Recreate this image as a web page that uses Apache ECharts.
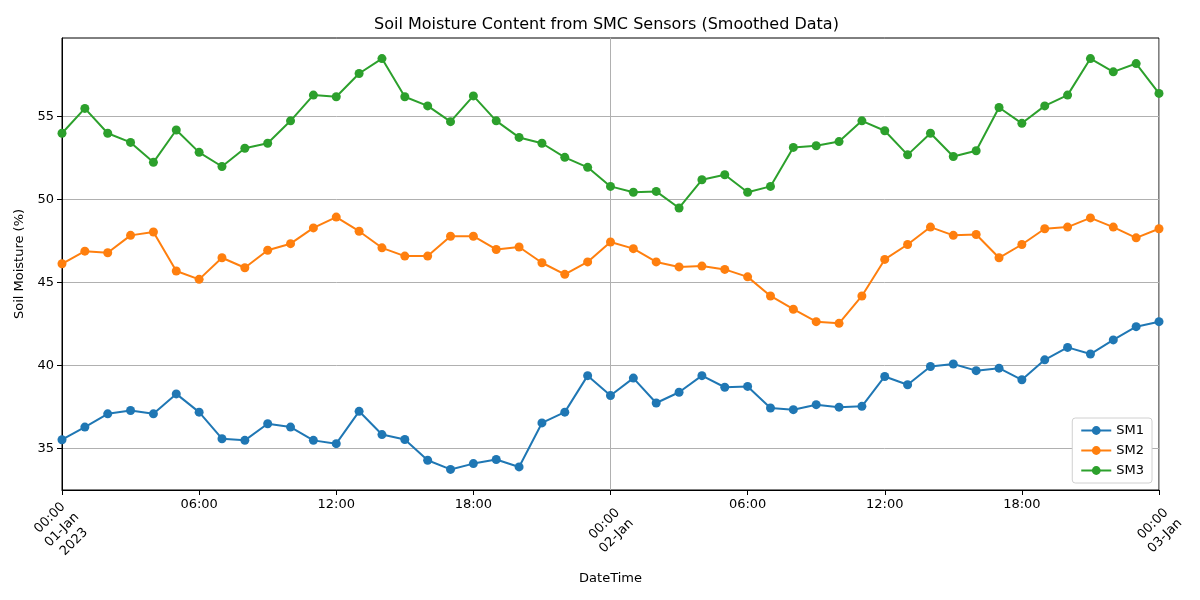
<!DOCTYPE html>
<html>
<head>
<meta charset="utf-8">
<script src="https://cdn.jsdelivr.net/npm/echarts@6/dist/echarts.min.js"></script>
<style>html,body{margin:0;padding:0;background:#fff}#chart{width:1200px;height:600px}</style>
</head>
<body>
<div id="chart"></div>
<script>
// Hours since 2023-01-01 00:00
const hours = [0,1,2,3,4,5,6,7,8,9,10,11,12,13,14,15,16,17,18,19,20,21,22,23,24,25,26,27,28,29,30,31,32,33,34,35,36,37,38,39,40,41,42,43,44,45,46,47,48];
const sm1 = [35.54,36.3,37.1,37.3,37.1,38.3,37.2,35.6,35.5,36.5,36.3,35.5,35.3,37.25,35.85,35.55,34.3,33.75,34.1,34.35,33.9,36.55,37.2,39.4,38.2,39.25,37.75,38.4,39.4,38.7,38.75,37.45,37.35,37.65,37.5,37.55,39.35,38.85,39.95,40.1,39.7,39.85,39.15,40.35,41.1,40.7,41.55,42.35,42.65];
const sm2 = [46.14,46.9,46.8,47.85,48.05,45.7,45.2,46.5,45.9,46.95,47.35,48.3,48.95,48.1,47.1,46.6,46.6,47.8,47.8,47.0,47.15,46.2,45.5,46.25,47.45,47.05,46.25,45.95,46.0,45.8,45.35,44.2,43.4,42.65,42.55,44.2,46.4,47.3,48.35,47.85,47.9,46.5,47.3,48.25,48.35,48.9,48.35,47.7,48.25];
const sm3 = [54.0,55.5,54.0,53.45,52.25,54.2,52.85,52.0,53.1,53.4,54.75,56.3,56.2,57.6,58.5,56.2,55.65,54.7,56.25,54.75,53.75,53.4,52.55,51.95,50.8,50.45,50.5,49.5,51.2,51.5,50.45,50.8,53.15,53.25,53.5,54.75,54.15,52.7,54.0,52.6,52.95,55.55,54.6,55.65,56.3,58.5,57.7,58.2,56.4];
const seriesNames = ['SM1','SM2','SM3'];
const yTicks = [35,40,45,50,55];
const hourTickLabels = {6:'06:00',12:'12:00',18:'18:00',30:'06:00',36:'12:00',42:'18:00'};
const dayTickLabels = {0:'00:00\n01-Jan\n2023',24:'00:00\n02-Jan',48:'00:00\n03-Jan'};

const colors = ['#1f77b4','#ff7f0e','#2ca02c'];
const font = 'DejaVu Sans';
const chart = echarts.init(document.getElementById('chart'), null, {renderer:'canvas'});
const mk = (name, vals, c) => ({
  name, type:'line', xAxisIndex:0,
  data: hours.map((h,i)=>[h, vals[i]]),
  symbol:'circle', symbolSize:9, showSymbol:true,
  lineStyle:{width:2, color:c}, itemStyle:{color:c},
  emphasis:{disabled:true}, animation:false
});
chart.setOption({
  animation:false,
  textStyle:{fontFamily:font},
  title:{text:'Soil Moisture Content from SMC Sensors (Smoothed Data)', left:369, top:12,
    textStyle:{fontFamily:font, fontSize:16, fontWeight:'normal', color:'#000'}},
  grid:{left:62, right:41, top:38, bottom:110, show:true, borderColor:'#000', borderWidth:1, backgroundColor:'transparent'},
  legend:{data:seriesNames, orient:'vertical', right:48, bottom:117, itemWidth:30, itemHeight:11, itemGap:7,
    backgroundColor:'#fff', borderColor:'#d0d0d0', borderWidth:1, borderRadius:3, padding:[6,8,6,8],
    textStyle:{fontFamily:font, fontSize:13, color:'#000'}},
  xAxis:[{
    type:'value', min:0, max:48, interval:6,
    name:'DateTime', nameLocation:'middle', nameGap:82, nameTextStyle:{fontFamily:font, fontSize:13, color:'#000'},
    axisLine:{show:true, lineStyle:{color:'#000'}},
    axisTick:{show:true, length:5, inside:false, lineStyle:{color:'#000'}},
    axisLabel:{show:true, margin:8, fontFamily:font, fontSize:13, color:'#000',
      formatter:(v)=> hourTickLabels[v] || ''},
    splitLine:{show:false}
  },{
    type:'value', min:0, max:48, interval:24, position:'bottom',
    axisLine:{show:false}, axisTick:{show:false},
    axisLabel:{show:true, rotate:45, align:'center', verticalAlign:'middle', margin:40, lineHeight:17,
      fontFamily:font, fontSize:13, color:'#000', formatter:(v)=> dayTickLabels[v] || ''},
    splitLine:{show:true, lineStyle:{color:'#b0b0b0', width:1}}
  }],
  yAxis:{
    type:'value', min:32.51, max:59.74,
    name:'Soil Moisture (%)', nameLocation:'middle', nameGap:34, nameTextStyle:{fontFamily:font, fontSize:13, color:'#000'},
    axisLine:{show:true, lineStyle:{color:'#000'}},
    axisTick:{show:true, length:5, lineStyle:{color:'#000'}, customValues:yTicks},
    axisLabel:{show:true, margin:8, fontFamily:font, fontSize:13, color:'#000', customValues:yTicks},
    splitLine:{show:true, lineStyle:{color:'#b0b0b0', width:1}}
  },
  series:[mk('SM1', sm1, colors[0]), mk('SM2', sm2, colors[1]), mk('SM3', sm3, colors[2])]
});
</script>
</body>
</html>
